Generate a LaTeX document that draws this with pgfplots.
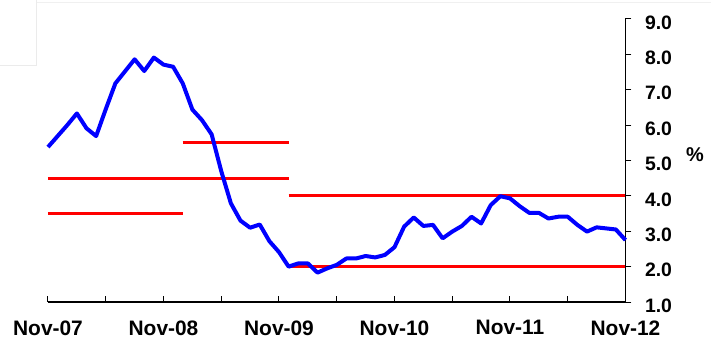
\documentclass[border=0pt]{standalone}
\usepackage{pgfplots}
\pgfplotsset{compat=1.18}
\usepackage{fontspec}
\setmainfont{Liberation Sans}
\definecolor{lineblue}{RGB}{0,0,255}
\definecolor{linered}{RGB}{255,0,0}
\pgfplotstableread{
m v
0 5.38
1 5.69
2 6.00
3 6.33
4 5.91
5 5.69
6 6.45
7 7.18
8 7.52
9 7.86
10 7.53
11 7.91
12 7.71
13 7.65
14 7.18
15 6.44
16 6.14
17 5.74
18 4.70
19 3.79
20 3.30
21 3.10
22 3.19
23 2.72
24 2.41
25 2.00
26 2.09
27 2.09
28 1.83
29 1.95
30 2.05
31 2.23
32 2.23
33 2.30
34 2.26
35 2.33
36 2.55
37 3.13
38 3.39
39 3.15
40 3.18
41 2.80
42 2.99
43 3.15
44 3.41
45 3.22
46 3.74
47 3.99
48 3.93
49 3.71
50 3.52
51 3.52
52 3.36
53 3.41
54 3.41
55 3.18
56 2.99
57 3.11
58 3.08
59 3.05
60 2.75
}\ratedata
\begin{document}
\begin{tikzpicture}
\useasboundingbox (-48bp,-41bp) rectangle (663bp,302bp);
\draw[black!8, line width=0.8bp] (-11.3bp,302bp) -- (-11.3bp,236.3bp) -- (-48bp,236.3bp);
\draw[black!6, line width=0.8bp] (-11.3bp,300bp) -- (663bp,300bp);
\begin{axis}[
  scale only axis, width=577.5bp, height=283bp,
  xmin=0, xmax=60, ymin=1, ymax=9,
  axis x line*=bottom, axis y line*=right,
  axis line style={-, black, line width=1.2bp},
  xtick={0,6,...,60},
  xticklabels={Nov-07,,Nov-08,,Nov-09,,Nov-10,,Nov-11,,Nov-12},
  ytick={1,2,...,9},
  yticklabel pos=right,
  xtick align=inside, ytick align=outside,
  major tick length=6bp,
  tick style={black, line width=1bp},
  /pgf/number format/assume math mode=true,
  y tick label style={/pgf/number format/fixed, /pgf/number format/fixed zerofill, /pgf/number format/precision=1, font=\bfseries\fontsize{19.5}{21}\selectfont, xshift=10bp, yshift=-3.5bp},
  x tick label style={font=\bfseries\fontsize{21}{23}\selectfont, yshift=-15bp},
  ylabel={\%},
  every axis y label/.style={at={(axis description cs:1.1203,0.5194)}, anchor=center, font=\bfseries\fontsize{20}{22}\selectfont},
  clip=false,
]
\addplot[linered, line width=3bp] coordinates {(0,3.5) (14,3.5)};
\addplot[linered, line width=3bp] coordinates {(0,4.5) (25,4.5)};
\addplot[linered, line width=3bp] coordinates {(14,5.5) (25,5.5)};
\addplot[linered, line width=3bp] coordinates {(25,4.0) (60,4.0)};
\addplot[linered, line width=3bp] coordinates {(25,2.0) (60,2.0)};
\addplot[lineblue, line width=4bp, line join=round] table[x=m, y=v] {\ratedata};
\end{axis}
\end{tikzpicture}
\end{document}
